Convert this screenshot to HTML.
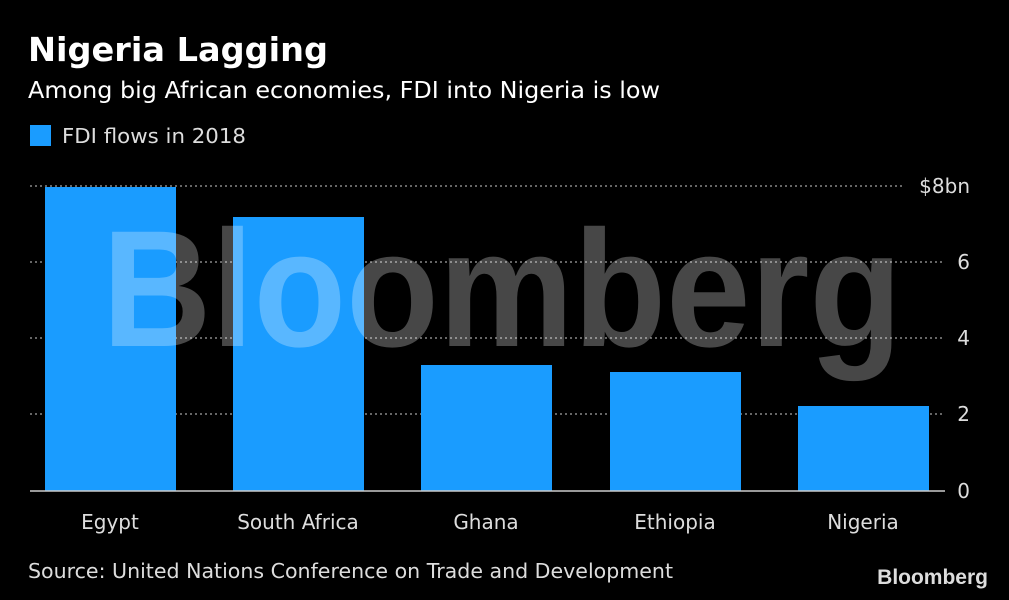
<!DOCTYPE html>
<html><head><meta charset="utf-8"><style>
html,body{margin:0;padding:0;background:#000;}
body{width:1009px;height:600px;position:relative;overflow:hidden;}
</style></head><body>
<svg width="1009" height="600" style="position:absolute;left:0;top:0" font-family="DejaVu Sans, Liberation Sans, sans-serif">
<text x="28" y="61" font-size="33" font-weight="bold" fill="#fff" textLength="300" lengthAdjust="spacingAndGlyphs">Nigeria Lagging</text>
<text x="28" y="98" font-size="23" fill="#fff" textLength="632" lengthAdjust="spacingAndGlyphs">Among big African economies, FDI into Nigeria is low</text>
<rect x="30" y="125" width="21" height="21" fill="#1a9cff"/>
<text x="62" y="143" font-size="20" fill="#ddd" textLength="184" lengthAdjust="spacingAndGlyphs">FDI flows in 2018</text>
<g stroke="#888" stroke-width="1.5" stroke-dasharray="2,3">
<line x1="30" y1="186" x2="905" y2="186"/>
<line x1="30" y1="262" x2="945" y2="262"/>
<line x1="30" y1="338" x2="945" y2="338"/>
<line x1="30" y1="414" x2="945" y2="414"/>
</g>
<g fill="#1a9cff">
<rect x="45" y="187" width="131" height="304"/>
<rect x="233" y="217" width="131" height="274"/>
<rect x="421" y="365" width="131" height="126"/>
<rect x="610" y="372" width="131" height="119"/>
<rect x="798" y="406" width="131" height="85"/>
</g>
<line x1="30" y1="491" x2="945" y2="491" stroke="#ccc" stroke-width="1.5"/>
<text x="102" y="346" font-family="Liberation Sans, sans-serif" font-weight="bold" font-size="166" fill="#fff" fill-opacity="0.28" textLength="800" lengthAdjust="spacingAndGlyphs">Bloomberg</text>
<g font-size="20" fill="#ddd" text-anchor="end">
<text x="970" y="193">$8bn</text>
<text x="970" y="269">6</text>
<text x="970" y="345">4</text>
<text x="970" y="421">2</text>
<text x="970" y="498">0</text>
</g>
<g font-size="20" fill="#ddd" text-anchor="middle">
<text x="110" y="529">Egypt</text>
<text x="298" y="529">South Africa</text>
<text x="486" y="529">Ghana</text>
<text x="675" y="529">Ethiopia</text>
<text x="863" y="529">Nigeria</text>
</g>
<text x="28" y="578" font-size="20" fill="#ddd" textLength="645" lengthAdjust="spacingAndGlyphs">Source: United Nations Conference on Trade and Development</text>
<text x="988" y="584" text-anchor="end" font-family="Liberation Sans, sans-serif" font-weight="bold" font-size="21" fill="#ddd">Bloomberg</text>
</svg>
</body></html>
